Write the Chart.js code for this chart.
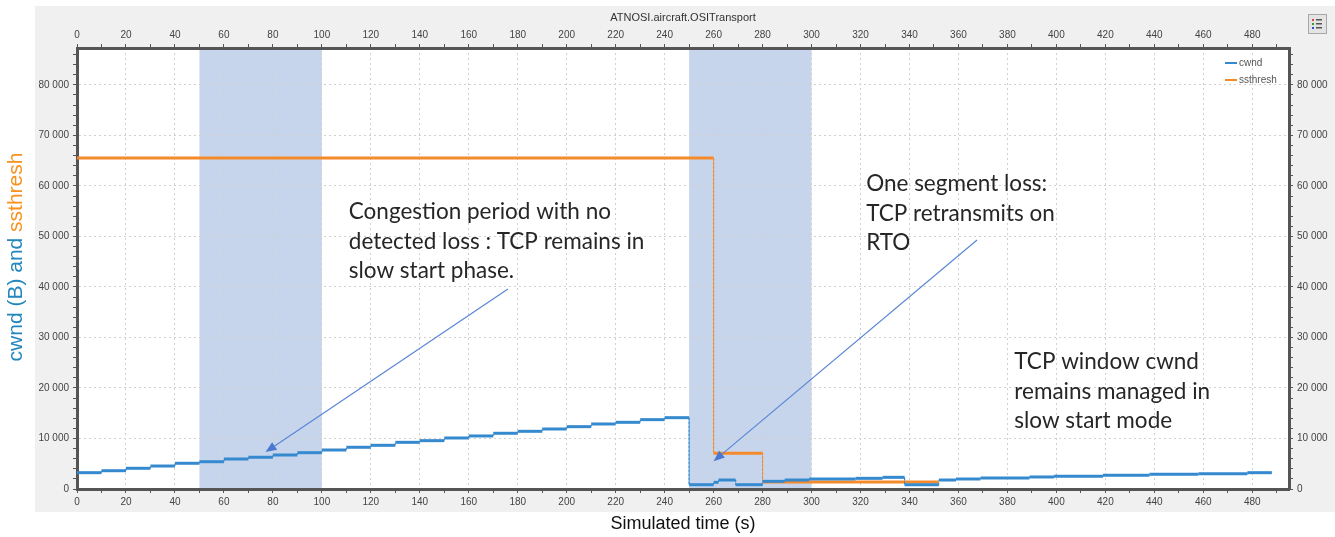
<!DOCTYPE html>
<html>
<head>
<meta charset="utf-8">
<title>ATNOSI.aircraft.OSITransport</title>
<script src="https://cdn.jsdelivr.net/npm/chart.js@4.4.1/dist/chart.umd.min.js"></script>
<style>
  html, body { margin: 0; padding: 0; background: #fff; }
  canvas { display: block; }
</style>
</head>
<body>
<canvas id="tcpChart" width="1335" height="537"></canvas>
<script>
// Step series: change times (s) and values (bytes)
const cwndTimes = [0, 10, 20, 30, 40, 50, 60, 70, 80, 90, 100, 110, 120, 130, 140, 150, 160, 170, 180, 190,
                   200, 210, 220, 230, 240, 250, 260, 262, 269, 280, 289, 299, 318, 329, 338,
                   352, 359, 369, 389, 399, 419, 438, 458, 478];
const cwndValues = [3230, 3620, 4100, 4550, 5090, 5400, 5940, 6280, 6730, 7190, 7720, 8260, 8650, 9240, 9570,
                    10100, 10500, 11030, 11420, 11880, 12340, 12870, 13200, 13730, 14120,
                    850, 1320, 1780, 850, 1520, 1780, 1980, 2110, 2310, 850,
                    1780, 1980, 2180, 2380, 2510, 2700, 2900, 3030, 3230];
const cwndEnd = 488;

const ssthreshTimes = [0, 260, 280];
const ssthreshValues = [65535, 7100, 1390];
const ssthreshEnd = 352;

// shaded congestion periods (s)
const congestionPeriods = [[50, 100], [250, 300]];

const xMax = 495, xStep = 10, xMajor = 20;
const yMax = 87300, yStep = 2000, yMajor = 10000;

// text notes, anchored in data coordinates
const notes = [
  { x: 111, y: 54850, lines: ['Congestion period with no', 'detected loss : TCP remains in', 'slow start phase.'] },
  { x: 322.3, y: 60400, lines: ['One segment loss:', 'TCP retransmits on', 'RTO'] },
  { x: 382.8, y: 25150, lines: ['TCP window cwnd', 'remains managed in', 'slow start mode'] }
];
const arrows = [
  { from: [176, 39600], to: [77, 7300] },
  { from: [367.6, 49300], to: [260, 5500] }
];

const BLUE = '#3589cf';
const ORANGE = '#f58a2a';

function stepPoints(times, values, end) {
  const pts = [];
  times.forEach((t, i) => {
    const next = i < times.length - 1 ? times[i + 1] : end;
    pts.push({ x: t, y: values[i] });
    pts.push({ x: next, y: values[i] });
  });
  return pts;
}

function spaced(v) {
  return String(v).replace(/\B(?=(\d{3})+(?!\d))/g, ' ');
}

const isVertical = ctx => ctx.p0.parsed.x === ctx.p1.parsed.x;

const tickFont = { family: 'Liberation Sans, Arial, sans-serif', size: 10 };

function axis(position, isX, showGrid, fitSize) {
  const major = isX ? xMajor : yMajor;
  const step = isX ? xStep : yStep;
  const max = isX ? xMax : yMax;
  return {
    type: 'linear',
    position: position,
    min: 0,
    max: max,
    ticks: {
      autoSkip: false,
      maxRotation: 0,
      padding: isX ? 3 : 4,
      color: '#444',
      font: tickFont,
      callback: v => (v % major === 0 ? (isX ? v : spaced(v)) : '')
    },
    grid: {
      drawOnChartArea: showGrid,
      color: ctx => (ctx.tick && ctx.tick.value % major === 0 ? '#d0d0d0' : 'rgba(0,0,0,0)'),
      tickColor: '#555',
      tickLength: 4,
      lineWidth: 1
    },
    border: { display: true, color: '#555', width: 3, dash: [2, 3] },
    // minor ticks every step, labels and grid only on majors
    afterBuildTicks: scale => {
      const ticks = [];
      for (let v = 0; v <= max; v += step) ticks.push({ value: v });
      scale.ticks = ticks;
    },
    afterFit: scale => {
      if (isX) scale.height = fitSize; else scale.width = fitSize;
    }
  };
}

// background frame + shaded congestion periods, under the grid
const backdrop = {
  id: 'backdrop',
  beforeDraw(chart) {
    const { ctx, chartArea: a, scales: { x } } = chart;
    ctx.save();
    ctx.fillStyle = '#fff';
    ctx.fillRect(0, 0, chart.width, chart.height);
    ctx.fillStyle = '#f0f0f0';
    ctx.fillRect(35, 6, chart.width - 35, 506);
    ctx.fillStyle = '#fff';
    ctx.fillRect(a.left, a.top, a.right - a.left, a.bottom - a.top);
    ctx.fillStyle = '#c6d5ec';
    congestionPeriods.forEach(([s, e]) => {
      const l = x.getPixelForValue(s), r = x.getPixelForValue(e);
      ctx.fillRect(l, a.top, r - l, a.bottom - a.top);
    });
    ctx.restore();
  }
};

// titles, legend, notes and arrows
const overlay = {
  id: 'overlay',
  afterDraw(chart) {
    const { ctx, chartArea: a, scales: { x, y } } = chart;
    ctx.save();

    // title
    ctx.fillStyle = '#333';
    ctx.font = '11px Liberation Sans, Arial, sans-serif';
    ctx.textAlign = 'center';
    ctx.textBaseline = 'middle';
    ctx.fillText('ATNOSI.aircraft.OSITransport', (a.left + a.right) / 2, 18);

    // x axis title
    ctx.fillStyle = '#111';
    ctx.font = '18px Liberation Sans, Arial, sans-serif';
    ctx.fillText('Simulated time (s)', (a.left + a.right) / 2, 524);

    // two coloured y axis title
    ctx.save();
    ctx.translate(16, 257);
    ctx.rotate(-Math.PI / 2);
    ctx.font = '21px Liberation Sans, Arial, sans-serif';
    const p1 = 'cwnd (B) and ', p2 = 'ssthresh';
    const w1 = ctx.measureText(p1).width, w2 = ctx.measureText(p2).width;
    ctx.textAlign = 'left';
    ctx.fillStyle = '#2386bd';
    ctx.fillText(p1, -(w1 + w2) / 2, 0);
    ctx.fillStyle = '#f7921e';
    ctx.fillText(p2, -(w1 + w2) / 2 + w1, 0);
    ctx.restore();

    // legend inside the plot, top right
    ctx.font = '10px Liberation Sans, Arial, sans-serif';
    ctx.textAlign = 'left';
    chart.data.datasets.forEach((ds, i) => {
      const ly = a.top + 15 + i * 17;
      ctx.strokeStyle = ds.borderColor;
      ctx.lineWidth = 2;
      ctx.beginPath();
      ctx.moveTo(a.right - 64, ly);
      ctx.lineTo(a.right - 52, ly);
      ctx.stroke();
      ctx.fillStyle = '#555';
      ctx.fillText(ds.label, a.right - 50, ly);
    });

    // small legend toggle icon
    ctx.fillStyle = '#e4e4e4';
    ctx.fillRect(1308, 14, 18, 19);
    ctx.strokeStyle = '#a8a8a8';
    ctx.lineWidth = 1;
    ctx.strokeRect(1308.5, 14.5, 18, 19);
    ['#e04040', '#30a030', '#3050d0'].forEach((c, i) => {
      ctx.fillStyle = c;
      ctx.fillRect(1312, 19 + i * 4, 2, 2);
      ctx.fillStyle = '#555';
      ctx.fillRect(1316, 19 + i * 4, 6, 1.5);
    });

    // notes
    ctx.fillStyle = '#262626';
    ctx.font = '22.5px Lato, "Open Sans", sans-serif';
    ctx.textBaseline = 'middle';
    notes.forEach(n => {
      const nx = x.getPixelForValue(n.x), ny = y.getPixelForValue(n.y);
      n.lines.forEach((t, i) => ctx.fillText(t, nx, ny + i * 29.5));
    });

    // arrows
    ctx.strokeStyle = '#5a86d6';
    ctx.fillStyle = '#4a78d0';
    ctx.lineWidth = 1.2;
    arrows.forEach(ar => {
      const x0 = x.getPixelForValue(ar.from[0]), y0 = y.getPixelForValue(ar.from[1]);
      const x1 = x.getPixelForValue(ar.to[0]), y1 = y.getPixelForValue(ar.to[1]);
      const ang = Math.atan2(y1 - y0, x1 - x0);
      const hl = 11, hw = 4.5;
      const bx = x1 - hl * Math.cos(ang), by = y1 - hl * Math.sin(ang);
      ctx.beginPath();
      ctx.moveTo(x0, y0);
      ctx.lineTo(bx, by);
      ctx.stroke();
      ctx.beginPath();
      ctx.moveTo(x1, y1);
      ctx.lineTo(bx + hw * Math.sin(ang), by - hw * Math.cos(ang));
      ctx.lineTo(bx - hw * Math.sin(ang), by + hw * Math.cos(ang));
      ctx.closePath();
      ctx.fill();
    });

    ctx.restore();
  }
};

const stepLine = (label, color, pts) => ({
  label: label,
  data: pts,
  borderColor: color,
  backgroundColor: color,
  borderWidth: 3,
  pointRadius: 0,
  tension: 0,
  fill: false,
  xAxisID: 'x',
  yAxisID: 'y',
  segment: {
    borderWidth: ctx => (isVertical(ctx) ? 1 : undefined),
    borderDash: ctx => (isVertical(ctx) ? [2, 2] : undefined)
  }
});

new Chart(document.getElementById('tcpChart'), {
  type: 'line',
  data: {
    datasets: [
      stepLine('cwnd', BLUE, stepPoints(cwndTimes, cwndValues, cwndEnd)),
      stepLine('ssthresh', ORANGE, stepPoints(ssthreshTimes, ssthreshValues, ssthreshEnd))
    ]
  },
  options: {
    responsive: false,
    animation: false,
    layout: { padding: 0 },
    plugins: {
      legend: { display: false },
      title: { display: false },
      tooltip: { enabled: false }
    },
    scales: {
      x: axis('bottom', true, true, 48),
      x2: axis('top', true, false, 48),
      y: axis('left', false, true, 77),
      y2: axis('right', false, false, 46)
    }
  },
  plugins: [backdrop, overlay]
});
</script>
</body>
</html>
